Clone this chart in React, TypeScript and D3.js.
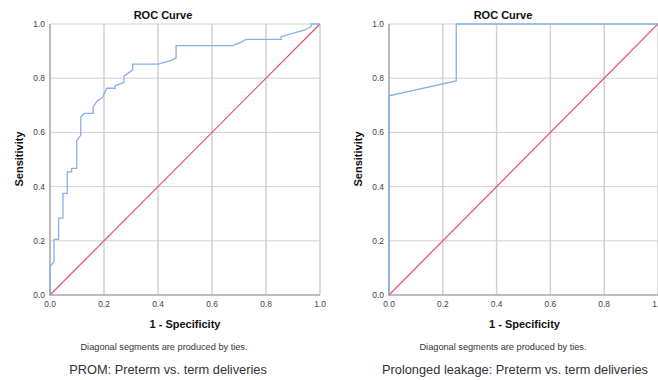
import React from 'react';
import * as d3 from 'd3';

// ROC points (1 - specificity, sensitivity)
const promFpr = [0, 0, 0.015, 0.015, 0.032, 0.032, 0.048, 0.048, 0.064, 0.064, 0.08, 0.08, 0.099, 0.099, 0.114, 0.114, 0.126, 0.16, 0.16, 0.175, 0.195, 0.21, 0.241, 0.241, 0.274, 0.274, 0.306, 0.306, 0.401, 0.447, 0.467, 0.467, 0.677, 0.704, 0.726, 0.856, 0.856, 0.944, 0.967, 0.967, 1];
const promTpr = [0, 0.105, 0.123, 0.205, 0.205, 0.284, 0.284, 0.375, 0.375, 0.454, 0.454, 0.467, 0.467, 0.569, 0.59, 0.658, 0.67, 0.67, 0.695, 0.716, 0.73, 0.763, 0.763, 0.772, 0.785, 0.808, 0.83, 0.852, 0.852, 0.865, 0.875, 0.92, 0.92, 0.931, 0.943, 0.943, 0.953, 0.978, 0.99, 1, 1];

const leakFpr = [0, 0, 0.25, 0.25, 1];
const leakTpr = [0, 0.735, 0.79, 1, 1];

const refLine = [0, 1];
const ticks = [0, 0.2, 0.4, 0.6, 0.8, 1.0];

interface PanelProps {
  fpr: number[];
  tpr: number[];
  left: number;
  right: number;
  titleX: number;
  noteX: number;
  captionX: number;
  caption: string;
}

const Panel: React.FC<PanelProps> = ({ fpr, tpr, left, right, titleX, noteX, captionX, caption }) => {
  const top = 24;
  const bottom = 295;
  const x = d3.scaleLinear().domain([0, 1]).range([left, right]);
  const y = d3.scaleLinear().domain([0, 1]).range([bottom, top]);
  const pts = fpr.map((f, i) => [f, tpr[i]] as [number, number]);
  const line = d3.line<[number, number]>().x((d) => x(d[0])).y((d) => y(d[1]));
  const diag = refLine.map((v) => [v, v] as [number, number]);
  const font = 'Liberation Sans, Arial, sans-serif';

  return (
    <g fontFamily={font}>
      {ticks.slice(1).map((t) => (
        <g key={'g' + t}>
          <line x1={x(t)} x2={x(t)} y1={top} y2={bottom} stroke="#cfcfcf" strokeWidth={1.4} />
          <line x1={left} x2={right} y1={y(t)} y2={y(t)} stroke="#d2d2d2" strokeWidth={1} />
        </g>
      ))}
      <line x1={left} x2={left} y1={top} y2={bottom + 1} stroke="#a8a8a8" strokeWidth={1.6} />
      <line x1={left} x2={right} y1={bottom} y2={bottom} stroke="#a8a8a8" strokeWidth={1.6} />
      {ticks.map((t) => (
        <text key={'y' + t} x={left - 5} y={y(t) + 3} fontSize={8.4} fill="#444" textAnchor="end">
          {t.toFixed(1)}
        </text>
      ))}
      {ticks.map((t) => (
        <text key={'x' + t} x={x(t)} y={307} fontSize={8.4} fill="#444" textAnchor="middle">
          {t.toFixed(1)}
        </text>
      ))}
      <path d={line(diag) || ''} fill="none" stroke="#f04a6c" strokeWidth={1.2} />
      <path d={line(pts) || ''} fill="none" stroke="#86b0ea" strokeWidth={1.3} />
      <text x={titleX} y={19} fontSize={11} fontWeight="bold" fill="#111" textAnchor="middle">
        ROC Curve
      </text>
      <text x={(left + right) / 2 + (left > 100 ? 1 : 0)} y={328} fontSize={11} fontWeight="bold" fill="#111" textAnchor="middle">
        1 - Specificity
      </text>
      <text
        transform={`translate(${left - 27},159) rotate(-90)`}
        fontSize={11}
        fontWeight="bold"
        fill="#111"
        textAnchor="middle"
      >
        Sensitivity
      </text>
      <text x={noteX} y={350} fontSize={9.2} fill="#333" textAnchor="middle">
        Diagonal segments are produced by ties.
      </text>
      <text x={captionX} y={374} fontSize={12.8} fill="#333" textAnchor="middle">
        {caption}
      </text>
    </g>
  );
};

export default function App() {
  return (
    <svg
      width={658}
      height={380}
      style={{ position: 'absolute', left: 0, top: 0, background: 'white' }}
    >
      <Panel
        fpr={promFpr}
        tpr={promTpr}
        left={50}
        right={320}
        titleX={163}
        noteX={164}
        captionX={168}
        caption="PROM: Preterm vs. term deliveries"
      />
      <Panel
        fpr={leakFpr}
        tpr={leakTpr}
        left={389}
        right={658}
        titleX={503}
        noteX={503}
        captionX={515}
        caption="Prolonged leakage: Preterm vs. term deliveries"
      />
    </svg>
  );
}
